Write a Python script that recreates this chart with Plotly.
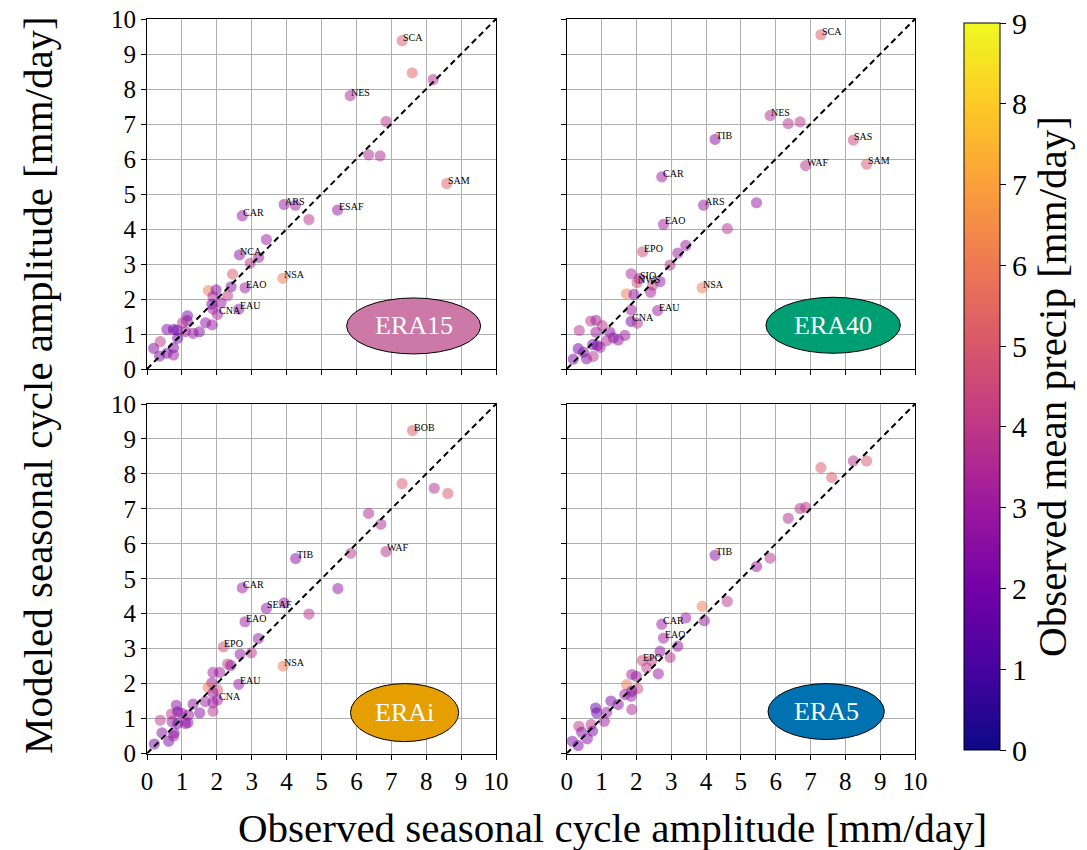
import plotly.graph_objects as go

# ---------------- data ----------------
# ERA15
obs_era15 = [7.31, 7.60, 8.20, 5.82, 6.85, 6.35, 6.68, 8.59, 3.93, 4.25, 5.46, 2.73, 4.64, 3.42,
             2.65, 3.20, 2.96, 2.45, 3.89, 2.41, 2.81, 1.76, 1.98, 2.31, 1.89, 2.12, 1.86, 2.63,
             1.89, 2.02, 1.16, 1.15, 1.68, 1.87, 1.02, 0.57, 0.76, 0.86, 1.10, 1.32, 1.50, 0.88,
             0.38, 0.19, 0.76, 0.57, 0.76, 0.36]
mod_era15 = [9.38, 8.46, 8.27, 7.81, 7.07, 6.12, 6.09, 5.30, 4.70, 4.68, 4.54, 4.38, 4.27, 3.70,
             3.26, 3.19, 3.02, 2.71, 2.59, 2.35, 2.32, 2.24, 2.26, 2.09, 2.07, 1.89, 1.85, 1.71,
             1.71, 1.56, 1.52, 1.38, 1.32, 1.26, 1.32, 1.13, 1.13, 1.11, 1.07, 1.02, 1.06, 0.88,
             0.78, 0.59, 0.61, 0.45, 0.40, 0.37]
pr_era15 = [5.0, 5.2, 3.6, 3.5, 3.8, 3.5, 3.6, 5.2, 2.8, 3.0, 2.8, 3.0, 3.8, 3.0,
            2.6, 2.8, 3.8, 5.0, 6.0, 2.5, 3.0, 6.0, 2.3, 4.0, 3.3, 2.8, 2.0, 2.8,
            3.0, 3.3, 2.3, 2.3, 2.7, 2.8, 3.8, 2.4, 2.0, 1.9, 3.0, 2.8, 2.5, 2.0,
            4.0, 2.3, 2.3, 2.2, 2.8, 2.2]
lab_era15 = ["SCA", "", "", "NES", "", "", "", "SAM", "ARS", "", "ESAF", "CAR", "", "",
             "NCA", "", "", "", "NSA", "", "EAO", "", "", "", "", "", "", "EAU",
             "", "CNA", "", "", "", "", "", "", "", "", "", "", "", "",
             "", "", "", "", "", ""]

# ERA40
obs_era40 = [7.30, 5.84, 6.36, 6.70, 4.26, 8.23, 8.61, 6.86, 2.73, 5.45, 3.93, 2.78, 4.61, 3.42,
             2.18, 3.19, 2.97, 3.89, 1.85, 2.08, 2.02, 2.47, 2.68, 1.72, 1.93, 2.41, 1.85,
             2.61, 1.85, 2.03, 0.36, 0.69, 0.84, 1.02, 0.84, 1.24, 1.48, 1.67, 1.34, 1.15, 0.75,
             0.88, 0.96, 0.33, 0.48, 0.57, 0.76, 0.19]
mod_era40 = [9.55, 7.24, 7.01, 7.06, 6.56, 6.54, 5.85, 5.81, 5.49, 4.75, 4.68, 4.13, 4.01, 3.53,
             3.35, 3.31, 2.97, 2.32, 2.72, 2.58, 2.47, 2.39, 2.50, 2.15, 2.13, 2.19, 1.69,
             1.67, 1.36, 1.31, 1.10, 1.37, 1.39, 1.24, 1.05, 1.05, 0.83, 0.96, 0.89, 0.81, 0.70,
             0.67, 0.62, 0.58, 0.48, 0.29, 0.36, 0.28]
pr_era40 = [5.0, 3.6, 3.8, 3.8, 2.5, 4.3, 5.0, 3.8, 3.0, 2.8, 2.8, 3.0, 3.8, 3.0,
            4.5, 2.8, 3.8, 6.0, 3.5, 2.6, 4.5, 4.2, 2.8, 6.0, 2.6, 3.2, 3.0,
            3.0, 2.0, 3.8, 3.8, 4.0, 3.0, 3.8, 2.8, 2.5, 2.5, 3.0, 2.5, 3.5, 2.0,
            1.8, 3.0, 1.8, 2.3, 2.3, 3.8, 2.2]
lab_era40 = ["SCA", "NES", "", "", "TIB", "SAS", "SAM", "WAF", "CAR", "", "ARS", "EAO", "", "",
             "EPO", "", "", "NSA", "", "SIO", "NWS", "", "", "", "", "", "",
             "EAU", "CNA", "", "", "", "", "", "", "", "", "", "", "", "",
             "", "", "", "", "", "", ""]

# ERAi
obs_erai = [7.61, 7.31, 8.23, 8.62, 6.35, 6.70, 5.84, 6.85, 4.26, 2.73, 5.47, 3.42, 3.93, 4.64,
            2.81, 3.19, 2.19, 2.67, 2.99, 3.90, 2.31, 2.40, 1.89, 2.08, 2.63, 1.86, 1.75, 2.02,
            1.89, 2.02, 1.67, 1.89, 1.32, 0.84, 1.51, 1.89, 0.70, 0.88, 1.00, 1.19, 0.38, 0.72,
            0.88, 1.10, 1.17, 0.43, 0.78, 0.62, 0.76, 0.21]
mod_erai = [9.24, 7.72, 7.59, 7.44, 6.87, 6.56, 5.73, 5.78, 5.58, 4.74, 4.72, 4.15, 4.31, 3.99,
            3.77, 3.29, 3.05, 2.84, 2.88, 2.50, 2.56, 2.52, 2.32, 2.32, 1.98, 2.02, 1.89, 1.82,
            1.74, 1.53, 1.49, 1.45, 1.41, 1.38, 1.16, 1.21, 1.13, 1.19, 1.15, 1.10, 0.95, 0.91,
            0.86, 0.86, 0.88, 0.59, 0.59, 0.35, 0.50, 0.27]
pr_erai = [5.0, 5.0, 3.6, 5.0, 3.6, 3.5, 3.8, 3.8, 2.5, 3.0, 2.8, 2.8, 2.8, 3.8,
           3.0, 2.8, 4.5, 2.8, 3.8, 6.0, 4.2, 2.8, 3.2, 3.0, 2.8, 2.8, 6.0, 5.0,
           2.8, 3.2, 3.0, 2.8, 2.6, 2.6, 2.6, 3.8, 4.0, 2.0, 3.0, 2.8, 4.0, 2.8,
           2.0, 3.0, 2.5, 2.5, 2.3, 2.2, 3.0, 2.2]
lab_erai = ["BOB", "", "", "", "", "", "", "WAF", "TIB", "CAR", "", "SEAF", "", "",
            "EAO", "", "EPO", "", "", "NSA", "", "", "", "", "EAU", "", "", "",
            "", "CNA", "", "", "", "", "", "", "", "", "", "", "", "",
            "", "", "", "", "", "", "", ""]

# ERA5
obs_era5 = [8.23, 8.61, 7.30, 7.61, 6.70, 6.86, 6.36, 4.26, 5.84, 5.45, 4.61, 3.89, 3.42, 3.95,
            2.73, 2.78, 3.19, 2.68, 2.97, 2.17, 2.44, 2.30, 2.63, 1.87, 2.00, 1.72, 2.04, 1.87,
            1.85, 1.67, 1.87, 1.27, 1.48, 1.15, 0.83, 0.86, 1.08, 0.70, 0.35, 0.43, 0.74, 0.59,
            0.16, 0.33]
mod_era5 = [8.37, 8.37, 8.18, 7.90, 7.01, 7.04, 6.73, 5.67, 5.59, 5.35, 4.35, 4.21, 3.88, 3.80,
            3.70, 3.30, 3.07, 2.92, 2.75, 2.66, 2.66, 2.45, 2.28, 2.26, 2.21, 1.97, 1.85, 1.78,
            1.64, 1.69, 1.26, 1.50, 1.40, 1.18, 1.30, 1.16, 0.92, 0.83, 0.78, 0.61, 0.64, 0.42,
            0.35, 0.23]
pr_era5 = [3.6, 5.0, 5.0, 5.0, 3.8, 3.8, 3.6, 2.5, 3.8, 2.8, 3.8, 6.0, 3.0, 2.8,
           3.0, 3.0, 2.8, 2.8, 3.8, 4.5, 4.2, 4.0, 2.8, 3.2, 2.8, 6.0, 4.5, 2.0,
           2.8, 3.0, 3.5, 2.2, 2.6, 3.0, 1.5, 2.0, 3.0, 3.8, 4.0, 2.5, 2.2, 2.4,
           2.3, 2.3]
lab_era5 = ["", "", "", "", "", "", "", "TIB", "", "", "", "", "", "",
            "CAR", "EAO", "", "", "", "EPO", "", "", "", "", "", "", "", "",
            "", "", "", "", "", "", "", "", "", "", "", "", "", "",
            "", ""]

panel_names = ["ERA15", "ERA40", "ERAi", "ERA5"]
panel_colors = ["#CC79A7", "#009E73", "#E69F00", "#0072B2"]
ticks = list(range(0, 11))

# ---------------- figure ----------------
W, H = 1087, 850
SERIF = "Liberation Serif"

panels = [
    (obs_era15, mod_era15, pr_era15, lab_era15),
    (obs_era40, mod_era40, pr_era40, lab_era40),
    (obs_erai, mod_erai, pr_erai, lab_erai),
    (obs_era5, mod_era5, pr_era5, lab_era5),
]

xdom = {0: [147 / W, 496 / W], 1: [566.7 / W, 915 / W]}
ydom = {0: [1 - 369 / H, 1 - 19 / H], 1: [1 - 753.5 / H, 1 - 404 / H]}
ell_center = [(7.64, 1.23), (7.65, 1.25), (7.38, 1.17), (7.45, 1.20)]
ell_r = [(1.92, 0.80), (1.93, 0.80), (1.55, 0.83), (1.67, 0.80)]

fig = go.Figure()
annotations = []
shapes = []
layout_axes = {}

for k, (ox, my, pr, lab) in enumerate(panels):
    row, col = k // 2, k % 2
    n = k + 1
    xa = "x" if n == 1 else f"x{n}"
    ya = "y" if n == 1 else f"y{n}"
    fig.add_trace(go.Scatter(
        x=ox, y=my, mode="markers", xaxis=xa, yaxis=ya,
        marker=dict(
            size=10, color=pr, colorscale="Plasma", cmin=0, cmax=9,
            opacity=0.5,
            line=dict(width=1.2, color=pr, colorscale="Plasma", cmin=0, cmax=9),
            showscale=(k == 0),
            colorbar=dict(
                thickness=36, len=727 / H, lenmode="fraction",
                x=964 / W, xanchor="left", xpad=0,
                y=1 - 386.5 / H, yanchor="middle", ypad=0,
                outlinewidth=1, outlinecolor="black",
                ticks="outside", ticklen=6, tickcolor="black",
                tick0=0, dtick=1,
                tickfont=dict(family=SERIF, size=30, color="black"),
                title=dict(text="Observed mean precip [mm/day]", side="right",
                           font=dict(family=SERIF, size=41, color="black")),
            ),
        ),
        hoverinfo="skip", showlegend=False,
    ))
    fig.add_trace(go.Scatter(
        x=[0, 10], y=[0, 10], mode="lines", xaxis=xa, yaxis=ya,
        line=dict(color="black", width=2, dash="6px,4px"),
        hoverinfo="skip", showlegend=False,
    ))
    for name, xv, yv in zip(lab, ox, my):
        if name:
            annotations.append(dict(
                x=xv, y=yv, xref=xa, yref=ya, text=name, showarrow=False,
                xanchor="left", yanchor="bottom", yshift=-4, xshift=-1,
                font=dict(family=SERIF, size=10, color="black"),
            ))
    cx, cy = ell_center[k]
    rx, ry = ell_r[k]
    shapes.append(dict(
        type="circle", xref=xa, yref=ya, x0=cx - rx, x1=cx + rx, y0=cy - ry, y1=cy + ry,
        fillcolor=panel_colors[k], line=dict(color="black", width=1), layer="above",
    ))
    annotations.append(dict(
        x=cx, y=cy, xref=xa, yref=ya, text=panel_names[k], showarrow=False,
        xanchor="center", yanchor="middle",
        font=dict(family=SERIF, size=26, color="white"),
    ))
    axis_common = dict(
        range=[0, 10], tickvals=ticks, ticktext=[str(t) for t in ticks],
        showgrid=True, gridcolor="#b0b0b0", gridwidth=1,
        showline=True, linecolor="black", linewidth=1, mirror=True,
        ticks="outside", ticklen=5, tickcolor="black",
        zeroline=False, fixedrange=True, automargin=False,
        tickfont=dict(family=SERIF, size=25, color="black"),
    )
    xkey = "xaxis" if n == 1 else f"xaxis{n}"
    ykey = "yaxis" if n == 1 else f"yaxis{n}"
    layout_axes[xkey] = dict(axis_common, domain=xdom[col], anchor=ya,
                             showticklabels=(row == 1))
    layout_axes[ykey] = dict(axis_common, domain=ydom[row], anchor=xa,
                             showticklabels=(col == 0))

annotations.append(dict(
    x=612 / W, y=1 - 828 / H, xref="paper", yref="paper", showarrow=False,
    text="Observed seasonal cycle amplitude [mm/day]",
    xanchor="center", yanchor="middle",
    font=dict(family=SERIF, size=41, color="black"),
))
annotations.append(dict(
    x=38 / W, y=1 - 385 / H, xref="paper", yref="paper", showarrow=False,
    text="Modeled seasonal cycle amplitude [mm/day]", textangle=-90,
    xanchor="center", yanchor="middle",
    font=dict(family=SERIF, size=41, color="black"),
))

fig.update_layout(
    width=W, height=H, margin=dict(l=0, r=0, t=0, b=0, autoexpand=False),
    paper_bgcolor="white", plot_bgcolor="white",
    annotations=annotations, shapes=shapes, showlegend=False,
    **layout_axes,
)

fig.write_html(
    "out.html",
    config={"displayModeBar": False},
    post_script="document.body.style.margin='0';document.body.style.overflow='hidden';",
)
